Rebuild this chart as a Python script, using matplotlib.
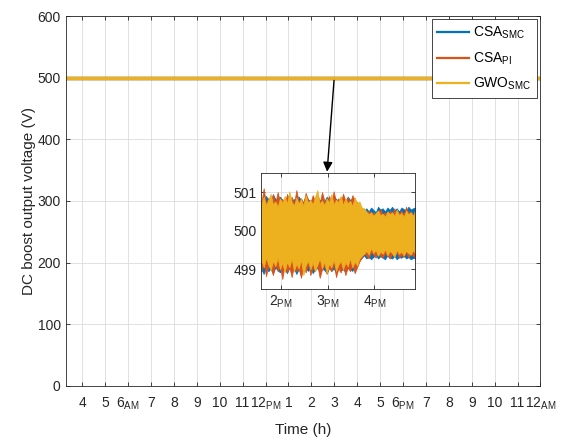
import numpy as np
import matplotlib.pyplot as plt

plt.rcParams['font.family'] = ['Liberation Sans', 'DejaVu Sans']
plt.rcParams['mathtext.default'] = 'regular'

# main curves (DC link held at 500 V over the day)
t_main = [3.27, 24.0]
csa_smc_main = [500, 500]
csa_pi_main = [500, 500]
gwo_smc_main = [500, 500]

# zoomed window: upper/lower ripple envelope (one sample per 3 min)
t_zoom = np.linspace(13.58, 16.88, 67)
csa_smc_hi = [500.78, 500.72, 500.90, 500.80, 500.74, 500.94, 500.82, 500.76, 500.88, 500.80,
              500.74, 500.86, 500.92, 500.78, 500.82, 500.76, 500.88, 500.80, 500.74, 500.90,
              500.82, 500.76, 500.86, 500.80, 500.92, 500.78, 500.84, 500.76, 500.88, 500.80,
              500.74, 500.90, 500.82, 500.78, 500.86, 500.80, 500.76, 500.88, 500.80, 500.82,
              500.76, 500.70, 500.62, 500.55, 500.52, 500.58, 500.50, 500.60, 500.54, 500.48,
              500.62, 500.55, 500.58, 500.50, 500.60, 500.54, 500.62, 500.52, 500.58, 500.50,
              500.60, 500.56, 500.52, 500.62, 500.55, 500.58, 500.60]
csa_smc_lo = [499.00, 498.88, 499.08, 498.95, 499.02, 498.90, 499.05, 498.98, 498.92, 499.06,
              499.00, 498.90, 499.04, 498.96, 499.02, 498.88, 499.00, 499.06, 498.94, 499.02,
              498.96, 499.05, 498.90, 499.00, 499.04, 498.92, 499.02, 498.98, 498.90, 499.04,
              498.96, 499.02, 498.92, 499.06, 498.98, 499.00, 498.94, 499.04, 499.00, 498.96,
              499.06, 499.15, 499.25, 499.30, 499.36, 499.28, 499.34, 499.26, 499.32, 499.38,
              499.28, 499.34, 499.30, 499.26, 499.36, 499.30, 499.28, 499.34, 499.26, 499.32,
              499.30, 499.36, 499.28, 499.32, 499.26, 499.30, 499.28]
csa_pi_hi = [500.72, 501.10, 500.70, 500.85, 500.78, 500.95, 500.72, 501.00, 500.75, 500.82,
             500.68, 500.95, 500.78, 500.88, 500.70, 501.05, 500.76, 500.84, 500.72, 500.98,
             500.80, 500.70, 500.92, 500.76, 500.86, 500.72, 501.00, 500.78, 500.70, 500.90,
             500.76, 501.02, 500.74, 500.84, 500.70, 500.96, 500.78, 500.86, 500.72, 500.92,
             500.80, 500.74, 500.62, 500.50, 500.46, 500.40, 500.52, 500.44, 500.48, 500.38,
             500.50, 500.56, 500.42, 500.48, 500.40, 500.52, 500.44, 500.58, 500.40, 500.46,
             500.52, 500.42, 500.62, 500.46, 500.50, 500.40, 500.52]
csa_pi_lo = [498.95, 499.20, 498.82, 499.10, 499.02, 498.85, 499.15, 498.95, 499.08, 498.75,
             499.12, 498.92, 499.05, 498.80, 499.10, 498.95, 499.02, 498.78, 499.08, 498.92,
             499.15, 498.85, 499.05, 498.95, 499.12, 498.78, 499.00, 499.10, 498.88, 499.05,
             498.95, 499.15, 498.80, 499.02, 498.92, 499.10, 498.85, 499.05, 498.95, 499.12,
             498.90, 499.05, 499.20, 499.30, 499.42, 499.35, 499.28, 499.45, 499.38, 499.30,
             499.48, 499.35, 499.30, 499.42, 499.36, 499.28, 499.40, 499.34, 499.45, 499.30,
             499.38, 499.32, 499.44, 499.30, 499.40, 499.35, 499.30]
gwo_smc_hi = [500.70, 500.88, 500.66, 500.80, 500.95, 500.68, 500.76, 500.62, 500.84, 500.72,
              500.90, 500.70, 501.02, 500.74, 500.66, 500.86, 500.70, 500.82, 500.64, 500.92,
              500.72, 500.80, 500.68, 500.88, 501.05, 500.70, 500.78, 500.66, 500.84, 500.72,
              500.95, 500.68, 500.80, 500.74, 500.90, 500.66, 500.84, 500.70, 500.78, 500.64,
              500.86, 500.70, 500.76, 500.60, 500.58, 500.50, 500.42, 500.48, 500.38, 500.46,
              500.52, 500.40, 500.44, 500.36, 500.50, 500.42, 500.48, 500.38, 500.55, 500.40,
              500.46, 500.36, 500.52, 500.42, 500.48, 500.38, 500.55]
gwo_smc_lo = [499.25, 499.05, 499.30, 499.12, 498.98, 499.22, 499.08, 499.30, 499.00, 499.18,
              498.92, 499.20, 499.05, 499.28, 498.95, 499.15, 499.02, 499.25, 498.85, 499.10,
              499.22, 499.00, 499.18, 498.95, 499.12, 499.28, 499.02, 499.20, 498.90, 499.15,
              499.05, 499.25, 498.96, 499.12, 499.22, 499.00, 499.18, 499.08, 499.28, 499.05,
              499.20, 499.10, 499.28, 499.35, 499.40, 499.48, 499.38, 499.55, 499.42, 499.50,
              499.35, 499.46, 499.40, 499.52, 499.36, 499.48, 499.42, 499.32, 499.50, 499.40,
              499.46, 499.36, 499.48, 499.42, 499.38, 499.50, 499.40]

hour_ticks = list(range(4, 25))
hour_labels = ['4', '5', '6$_{AM}$', '7', '8', '9', '10', '11', '12$_{PM}$', '1', '2', '3',
               '4', '5', '6$_{PM}$', '7', '8', '9', '10', '11', '12$_{AM}$']
zoom_ticks = [14, 15, 16]
zoom_labels = ['2$_{PM}$', '3$_{PM}$', '4$_{PM}$']

c_blue = '#0072BD'
c_orange = '#D95319'
c_yellow = '#EDB120'
c_text = '#262626'

series = [
    ('CSA$_{SMC}$', c_blue, csa_smc_main, csa_smc_lo, csa_smc_hi),
    ('CSA$_{PI}$', c_orange, csa_pi_main, csa_pi_lo, csa_pi_hi),
    ('GWO$_{SMC}$', c_yellow, gwo_smc_main, gwo_smc_lo, gwo_smc_hi),
]


def style_axes(ax):
    ax.tick_params(direction='in', top=True, right=True, colors=c_text,
                   labelsize=10, length=3, width=0.6)
    for s in ax.spines.values():
        s.set_color(c_text)
        s.set_linewidth(0.6)
    ax.grid(True, color='#dcdcdc', linewidth=0.6)
    ax.set_axisbelow(True)


fig = plt.figure(figsize=(5.62, 4.42), dpi=100)
ax = fig.add_axes([0.1166, 0.1267, 0.845, 0.8371])

for name, col, v, lo, hi in series:
    ax.plot(t_main, v, color=col, lw=2.4, label=name)
    ax.fill_between(t_zoom, lo, hi, color=col, lw=0)

ax.set_xlim(3.27, 24)
ax.set_ylim(0, 600)
ax.set_yticks(range(0, 601, 100))
ax.set_xticks(hour_ticks)
ax.set_xticklabels(hour_labels)
style_axes(ax)
ax.tick_params(axis='x', pad=7)
ax.set_xlabel('Time (h)', fontsize=11, color=c_text, labelpad=8)
ax.set_ylabel('DC boost output voltage (V)', fontsize=11, color=c_text, labelpad=1)

leg = ax.legend(loc='upper right', fontsize=10, fancybox=False, framealpha=1,
                edgecolor=c_text, handlelength=2.3, handletextpad=0.3,
                labelspacing=0.65, borderaxespad=0.25)
leg.get_frame().set_linewidth(0.6)
for h in leg.get_lines():
    h.set_linewidth(1.6)

# arrow from the curve down to the zoom window
ax.annotate('', xy=(14.68, 343), xytext=(15.0, 500),
            arrowprops=dict(arrowstyle='-|>', color='k', lw=1, mutation_scale=14))

axz = fig.add_axes([0.465, 0.3468, 0.2733, 0.2625])
for name, col, v, lo, hi in series:
    axz.fill_between(t_zoom, lo, hi, color=col, lw=0.5, edgecolor=col)
axz.set_xlim(13.58, 16.87)
axz.set_ylim(498.5, 501.5)
axz.set_yticks([499, 500, 501])
axz.set_xticks(zoom_ticks)
axz.set_xticklabels(zoom_labels)
style_axes(axz)

fig.savefig('out.png', dpi=100)
